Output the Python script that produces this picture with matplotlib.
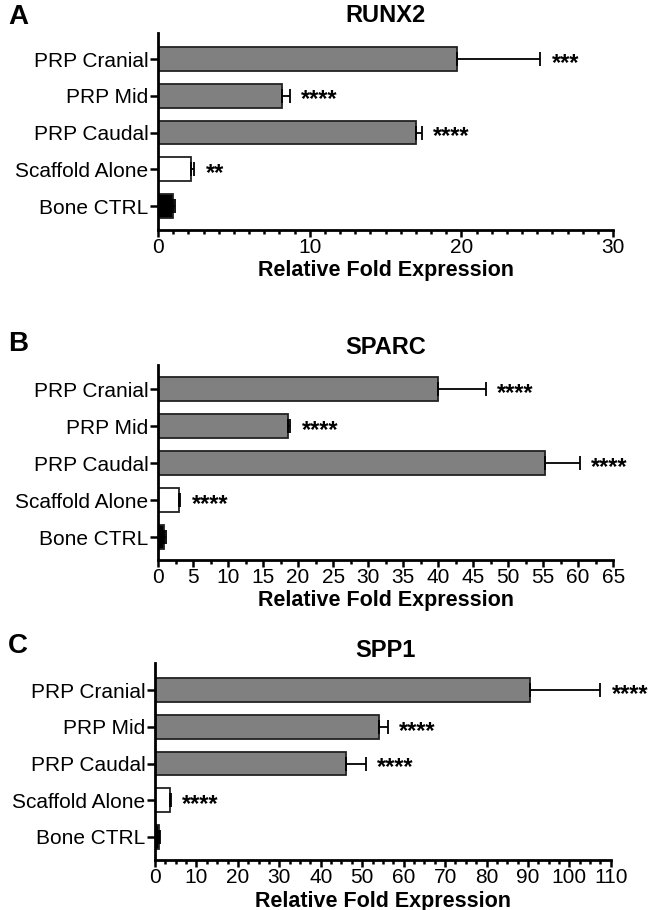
import numpy as np
import matplotlib
matplotlib.use("Agg")
import matplotlib.pyplot as plt
from matplotlib.ticker import MultipleLocator

plt.rcParams['font.family'] = ['Liberation Sans', 'DejaVu Sans']

groups = ["PRP Cranial", "PRP Mid", "PRP Caudal", "Scaffold Alone", "Bone CTRL"]
bar_colors = ["#808080", "#808080", "#808080", "white", "black"]

# RUNX2
runx2_mean = [19.7, 8.2, 17.0, 2.2, 1.0]
runx2_err = [5.5, 0.5, 0.4, 0.2, 0.15]
runx2_stars = ["***", "****", "****", "**", ""]

# SPARC
sparc_mean = [40.0, 18.5, 55.3, 3.0, 0.9]
sparc_err = [6.8, 0.4, 5.0, 0.2, 0.2]
sparc_stars = ["****", "****", "****", "****", ""]

# SPP1
spp1_mean = [90.5, 54.0, 46.0, 3.6, 1.0]
spp1_err = [17.0, 2.2, 4.8, 0.2, 0.2]
spp1_stars = ["****", "****", "****", "****", ""]

panels = [
    ("A", "RUNX2", runx2_mean, runx2_err, runx2_stars, 30, 10, 1,
     [0.2416, 0.7473, 0.696, 0.2165], (-0.65, 4.71)),
    ("B", "SPARC", sparc_mean, sparc_err, sparc_stars, 65, 5, 2.5,
     [0.2416, 0.3846, 0.696, 0.2143], (-0.62, 4.65)),
    ("C", "SPP1", spp1_mean, spp1_err, spp1_stars, 110, 10, 2.5,
     [0.237, 0.0549, 0.697, 0.2165], (-0.63, 4.74)),
]

fig = plt.figure(figsize=(6.54, 9.10), dpi=100)

letter_y = [0.996, 0.636, 0.304]
title_y = [0.996, 0.631, 0.298]
for i, (letter, gene, mean, err, stars, xmax, major, minor, rect, ylim) in enumerate(panels):
    ax = fig.add_axes(rect)
    ypos = np.arange(len(groups))[::-1]
    ax.barh(ypos, mean, height=0.65, color=bar_colors, edgecolor="#222222",
            linewidth=1.3, zorder=2)
    ax.errorbar(mean, ypos, xerr=[np.zeros(len(err)), err], fmt="none",
                ecolor="black", elinewidth=1.3, capsize=5, capthick=1.3, zorder=3)
    for y, m, e, s in zip(ypos, mean, err, stars):
        if s:
            ax.annotate(s, xy=(m + e, y), xytext=(8, -3), textcoords="offset points",
                        ha="left", va="center", fontsize=17, fontweight="bold")

    ax.set_xlim(0, xmax)
    ax.set_ylim(*ylim)
    ax.set_yticks(ypos)
    ax.set_yticklabels(groups, fontsize=15)
    ax.xaxis.set_major_locator(MultipleLocator(major))
    ax.xaxis.set_minor_locator(MultipleLocator(minor))
    ax.tick_params(axis="x", labelsize=15, width=1.8, length=5, pad=1)
    ax.tick_params(axis="x", which="minor", width=1.8, length=3)
    ax.tick_params(axis="y", width=1.8, length=6, pad=1)
    for side in ["top", "right"]:
        ax.spines[side].set_visible(False)
    for side in ["left", "bottom"]:
        ax.spines[side].set_linewidth(2)
    ax.set_xlabel("Relative Fold Expression", fontsize=15.5, fontweight="bold")
    ax.xaxis.set_label_coords(0.5, -0.155)

    fig.text(0.59, title_y[i], gene, ha="center", va="top", fontsize=17, fontweight="bold")
    fig.text(0.012, letter_y[i], letter, ha="left", va="top", fontsize=20, fontweight="bold",
             family=["Liberation Sans Narrow", "Liberation Sans", "DejaVu Sans"])

fig.savefig("out.png", dpi=100)
